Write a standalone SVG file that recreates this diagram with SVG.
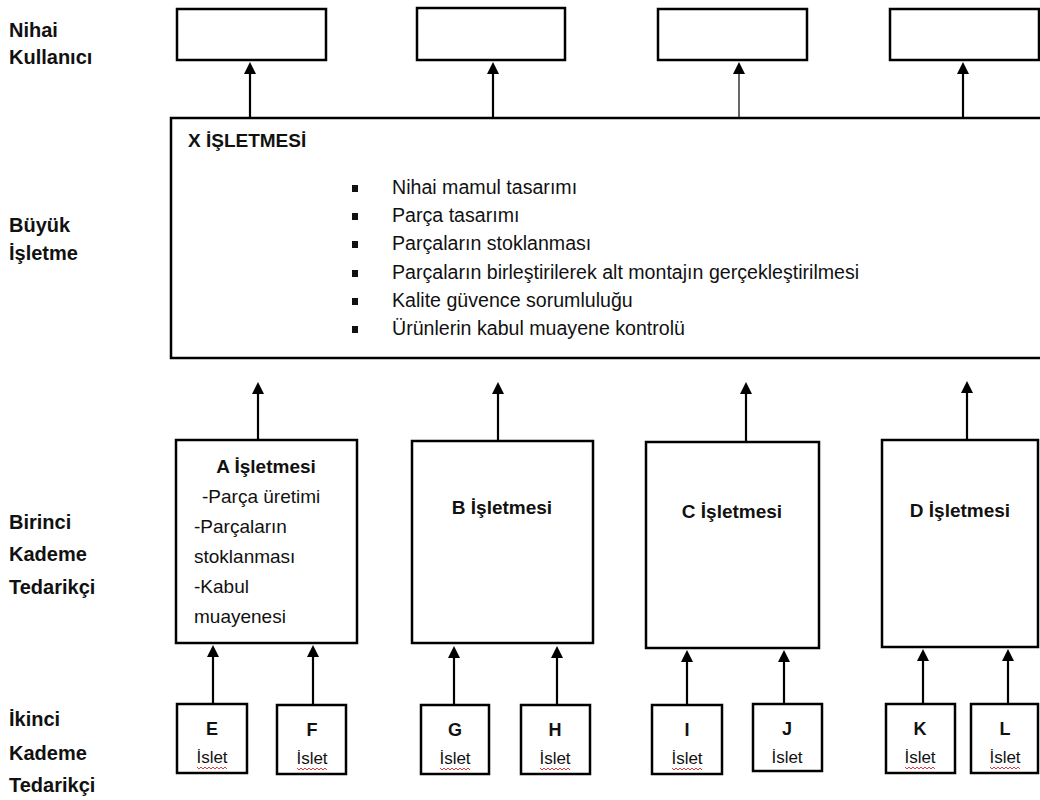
<svg xmlns="http://www.w3.org/2000/svg" width="1040" height="800" viewBox="0 0 1040 800">
  <style>
    text { font-family: "Liberation Sans", Arial, sans-serif; fill: #111; }
    .lvl { font-size: 20px; font-weight: bold; }
    .box { fill: #fff; stroke: #000; stroke-width: 2.5; }
    .ttl { font-size: 19px; font-weight: bold; }
    .body { font-size: 19px; }
    .list { font-size: 19.6px; }
    .ltr { font-size: 18px; font-weight: bold; text-anchor: middle; }
    .sub { font-size: 17px; text-anchor: middle; }
    .mid { text-anchor: middle; }
    .arr { stroke: #000; stroke-width: 2.2; fill: none; marker-end: url(#head); }
    .thin { stroke-width: 1.2; }
    .blt { fill: #111; }
    .squig { stroke: #e03a3a; stroke-width: 1; fill: none; }
  </style>
  <defs>
    <marker id="head" viewBox="0 0 12 12" refX="0" refY="6" markerWidth="12" markerHeight="12" markerUnits="userSpaceOnUse" orient="auto">
      <path d="M0,0 L12,6 L0,12 z" fill="#000"/>
    </marker>
  </defs>

  <rect width="1040" height="800" fill="#fff"/>

  <!-- level labels -->
  <g id="levels">
    <text class="lvl" x="9" y="37">Nihai</text>
    <text class="lvl" x="9" y="64">Kullanıcı</text>
    <text class="lvl" x="9" y="232">Büyük</text>
    <text class="lvl" x="9" y="260">İşletme</text>
    <text class="lvl" x="9" y="529">Birinci</text>
    <text class="lvl" x="9" y="561">Kademe</text>
    <text class="lvl" x="9" y="594">Tedarikçi</text>
    <text class="lvl" x="9" y="726">İkinci</text>
    <text class="lvl" x="9" y="760">Kademe</text>
    <text class="lvl" x="9" y="792">Tedarikçi</text>
  </g>

  <!-- end users -->
  <g id="user1"><rect class="box" x="177" y="9" width="149" height="51"/></g>
  <g id="user2"><rect class="box" x="417" y="8" width="148" height="52"/></g>
  <g id="user3"><rect class="box" x="658" y="9" width="149" height="51"/></g>
  <g id="user4"><rect class="box" x="890" y="9" width="149" height="51"/></g>

  <!-- main company -->
  <g id="x-isletmesi">
    <rect class="box" x="171" y="118" width="900" height="240"/>
    <text class="ttl" x="188" y="147">X İŞLETMESİ</text>
    <rect class="blt" x="352" y="185" width="6" height="7"/>
    <rect class="blt" x="352" y="213" width="6" height="7"/>
    <rect class="blt" x="352" y="241" width="6" height="7"/>
    <rect class="blt" x="352" y="270" width="6" height="7"/>
    <rect class="blt" x="352" y="298" width="6" height="7"/>
    <rect class="blt" x="352" y="326" width="6" height="7"/>
    <text class="list" x="392" y="194">Nihai mamul tasarımı</text>
    <text class="list" x="392" y="222">Parça tasarımı</text>
    <text class="list" x="392" y="250">Parçaların stoklanması</text>
    <text class="list" x="392" y="279">Parçaların birleştirilerek alt montajın gerçekleştirilmesi</text>
    <text class="list" x="392" y="307">Kalite güvence sorumluluğu</text>
    <text class="list" x="392" y="335">Ürünlerin kabul muayene kontrolü</text>
  </g>

  <!-- first tier suppliers -->
  <g id="a-isletmesi">
    <rect class="box" x="176" y="440" width="181" height="203"/>
    <text class="ttl mid" x="266" y="473">A İşletmesi</text>
    <text class="body" x="202" y="503">-Parça üretimi</text>
    <text class="body" x="194" y="533">-Parçaların</text>
    <text class="body" x="194" y="563">stoklanması</text>
    <text class="body" x="194" y="593">-Kabul</text>
    <text class="body" x="194" y="623">muayenesi</text>
  </g>
  <g id="b-isletmesi">
    <rect class="box" x="412" y="441" width="181" height="202"/>
    <text class="ttl mid" x="502" y="514">B İşletmesi</text>
  </g>
  <g id="c-isletmesi">
    <rect class="box" x="646" y="442" width="173" height="206"/>
    <text class="ttl mid" x="732" y="518">C İşletmesi</text>
  </g>
  <g id="d-isletmesi">
    <rect class="box" x="882" y="440" width="156" height="207"/>
    <text class="ttl mid" x="960" y="517">D İşletmesi</text>
  </g>

  <!-- second tier suppliers -->
  <g id="e-islet">
    <rect class="box" x="177" y="704" width="70" height="69"/>
    <text class="ltr" x="212" y="735">E</text>
    <text class="sub" x="212" y="763">İslet</text>
    <path class="squig" d="M197,767 l2,2 l2,-2 l2,2 l2,-2 l2,2 l2,-2 l2,2 l2,-2 l2,2 l2,-2 l2,2 l2,-2 l2,2 l2,-2 l2,2"/>
  </g>
  <g id="f-islet">
    <rect class="box" x="277" y="705" width="69" height="69"/>
    <text class="ltr" x="312" y="736">F</text>
    <text class="sub" x="312" y="764">İslet</text>
    <path class="squig" d="M297,768 l2,2 l2,-2 l2,2 l2,-2 l2,2 l2,-2 l2,2 l2,-2 l2,2 l2,-2 l2,2 l2,-2 l2,2 l2,-2 l2,2"/>
  </g>
  <g id="g-islet">
    <rect class="box" x="421" y="705" width="68" height="69"/>
    <text class="ltr" x="455" y="736">G</text>
    <text class="sub" x="455" y="764">İslet</text>
    <path class="squig" d="M440,768 l2,2 l2,-2 l2,2 l2,-2 l2,2 l2,-2 l2,2 l2,-2 l2,2 l2,-2 l2,2 l2,-2 l2,2 l2,-2 l2,2"/>
  </g>
  <g id="h-islet">
    <rect class="box" x="521" y="705" width="69" height="69"/>
    <text class="ltr" x="555" y="736">H</text>
    <text class="sub" x="555" y="764">İslet</text>
    <path class="squig" d="M540,768 l2,2 l2,-2 l2,2 l2,-2 l2,2 l2,-2 l2,2 l2,-2 l2,2 l2,-2 l2,2 l2,-2 l2,2 l2,-2 l2,2"/>
  </g>
  <g id="i-islet">
    <rect class="box" x="652" y="705" width="70" height="69"/>
    <text class="ltr" x="687" y="736">I</text>
    <text class="sub" x="687" y="764">İslet</text>
    <path class="squig" d="M672,768 l2,2 l2,-2 l2,2 l2,-2 l2,2 l2,-2 l2,2 l2,-2 l2,2 l2,-2 l2,2 l2,-2 l2,2 l2,-2 l2,2"/>
  </g>
  <g id="j-islet">
    <rect class="box" x="753" y="704" width="69" height="67"/>
    <text class="ltr" x="787" y="735">J</text>
    <text class="sub" x="787" y="763">İslet</text>
  </g>
  <g id="k-islet">
    <rect class="box" x="886" y="704" width="69" height="69"/>
    <text class="ltr" x="920" y="735">K</text>
    <text class="sub" x="920" y="763">İslet</text>
    <path class="squig" d="M905,767 l2,2 l2,-2 l2,2 l2,-2 l2,2 l2,-2 l2,2 l2,-2 l2,2 l2,-2 l2,2 l2,-2 l2,2 l2,-2 l2,2"/>
  </g>
  <g id="l-islet">
    <rect class="box" x="971" y="704" width="67" height="69"/>
    <text class="ltr" x="1005" y="735">L</text>
    <text class="sub" x="1005" y="763">İslet</text>
    <path class="squig" d="M990,767 l2,2 l2,-2 l2,2 l2,-2 l2,2 l2,-2 l2,2 l2,-2 l2,2 l2,-2 l2,2 l2,-2 l2,2 l2,-2 l2,2"/>
  </g>

  <!-- connectors: each line stops where its arrowhead begins -->
  <g id="connectors">
    <line class="arr" x1="250" y1="118" x2="250" y2="74"/>
    <line class="arr" x1="493" y1="118" x2="493" y2="74"/>
    <line class="arr thin" x1="739" y1="118" x2="739" y2="74"/>
    <line class="arr" x1="963" y1="118" x2="963" y2="74"/>

    <line class="arr" x1="258" y1="440" x2="258" y2="394"/>
    <line class="arr" x1="498" y1="441" x2="498" y2="394"/>
    <line class="arr" x1="746" y1="442" x2="746" y2="394"/>
    <line class="arr" x1="967" y1="440" x2="967" y2="393"/>

    <line class="arr" x1="213" y1="704" x2="213" y2="657"/>
    <line class="arr" x1="313" y1="705" x2="313" y2="657"/>
    <line class="arr" x1="454" y1="705" x2="454" y2="658"/>
    <line class="arr" x1="557" y1="705" x2="557" y2="658"/>
    <line class="arr" x1="687" y1="705" x2="687" y2="662"/>
    <line class="arr" x1="784" y1="704" x2="784" y2="662"/>
    <line class="arr" x1="923" y1="704" x2="923" y2="661"/>
    <line class="arr" x1="1008" y1="704" x2="1008" y2="661"/>
  </g>
</svg>
